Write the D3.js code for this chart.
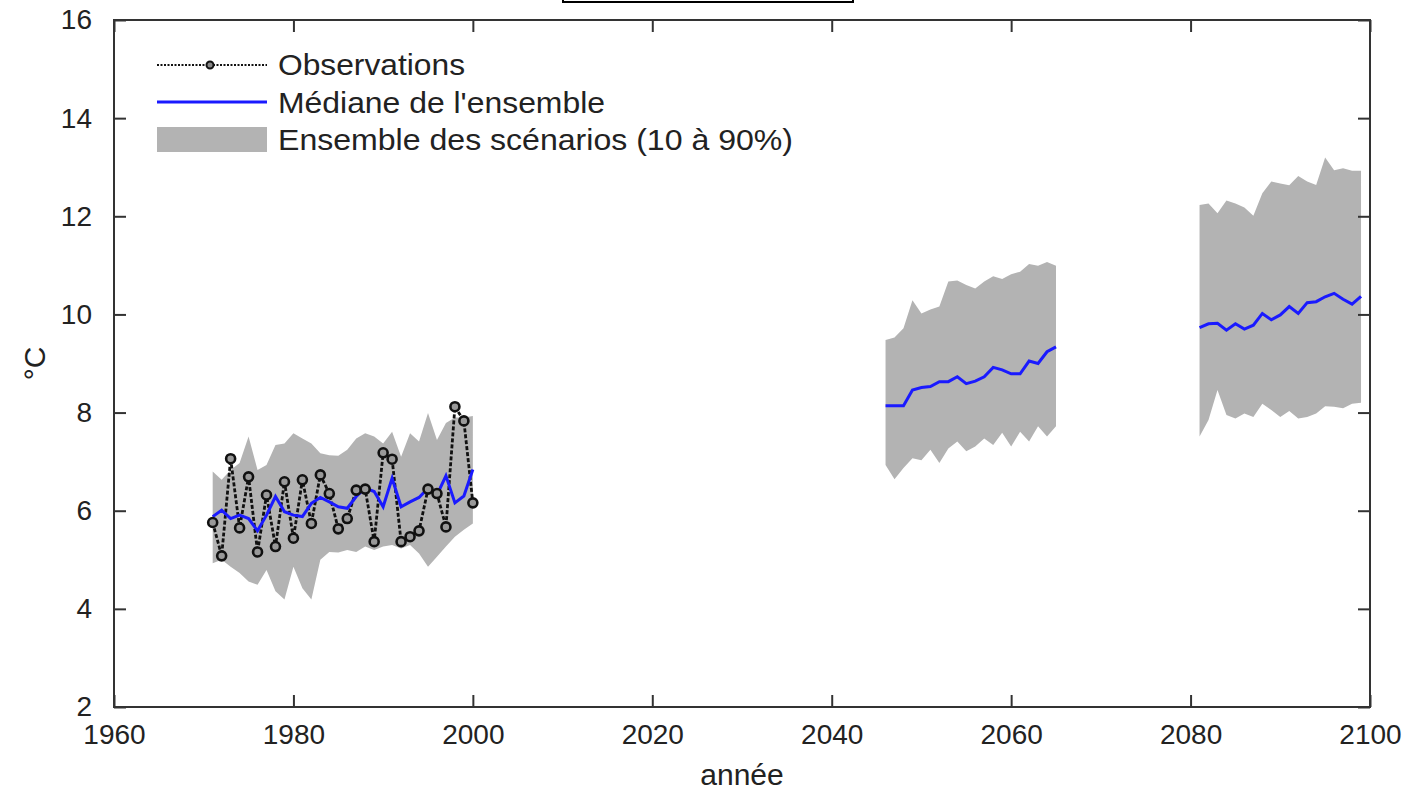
<!DOCTYPE html>
<html>
<head>
<meta charset="utf-8">
<script src="https://unpkg.com/d3@7/dist/d3.min.js"></script>
<style>
  body { margin: 0; background: #fff; }
  text { font-family: "Liberation Sans", Arial, sans-serif; fill: #222; }
</style>
</head>
<body>
<svg id="chart"></svg>
<script>
// observed period
var yearsHist = [1971,1972,1973,1974,1975,1976,1977,1978,1979,1980,1981,1982,1983,1984,1985,
                 1986,1987,1988,1989,1990,1991,1992,1993,1994,1995,1996,1997,1998,1999,2000];
var obsTemp = [5.76,5.08,7.06,5.65,6.69,5.16,6.32,5.27,6.59,5.44,6.63,5.74,6.73,6.35,5.63,
               5.84,6.42,6.44,5.37,7.18,7.05,5.37,5.47,5.59,6.44,6.35,5.67,8.12,7.83,6.16];
var medHist = [5.88,6.01,5.84,5.91,5.84,5.59,5.91,6.29,5.98,5.91,5.88,6.15,6.27,6.18,6.08,
               6.05,6.29,6.46,6.39,6.08,6.66,6.08,6.18,6.27,6.46,6.32,6.71,6.16,6.30,6.84];
var p90Hist = [6.80,6.63,6.83,6.97,7.51,6.83,6.93,7.34,7.37,7.58,7.47,7.37,7.17,7.13,7.12,
               7.24,7.47,7.58,7.51,7.37,7.61,7.10,7.58,7.41,7.99,7.44,7.79,7.90,7.90,7.93];
var p10Hist = [4.93,5.00,4.86,4.73,4.56,4.49,4.79,4.36,4.19,4.86,4.42,4.19,5.00,5.16,5.15,
               5.20,5.16,5.27,5.20,5.27,5.30,5.23,5.30,5.13,4.86,5.06,5.27,5.47,5.61,5.74];

// mid century
var yearsMid = [2046,2047,2048,2049,2050,2051,2052,2053,2054,2055,
                2056,2057,2058,2059,2060,2061,2062,2063,2064,2065];
var medMid = [8.14,8.14,8.14,8.46,8.51,8.53,8.63,8.63,8.73,8.59,
              8.64,8.73,8.92,8.87,8.79,8.79,9.05,9.00,9.24,9.34];
var p90Mid = [9.48,9.53,9.72,10.29,10.02,10.10,10.16,10.67,10.69,10.60,
              10.53,10.67,10.78,10.72,10.82,10.87,11.03,10.99,11.07,10.99];
var p10Mid = [6.93,6.64,6.87,7.07,7.03,7.24,6.97,7.27,7.41,7.21,
              7.31,7.47,7.34,7.59,7.31,7.61,7.41,7.72,7.51,7.72];

// end of century
var yearsEnd = [2081,2082,2083,2084,2085,2086,2087,2088,2089,2090,
                2091,2092,2093,2094,2095,2096,2097,2098,2099];
var medEnd = [9.73,9.81,9.82,9.68,9.81,9.70,9.78,10.02,9.89,9.99,
              10.16,10.02,10.24,10.26,10.36,10.43,10.31,10.21,10.37];
var p90End = [12.23,12.26,12.06,12.32,12.26,12.18,12.01,12.47,12.71,12.67,
              12.63,12.82,12.71,12.64,13.20,12.94,12.98,12.93,12.93];
var p10End = [7.51,7.85,8.46,7.95,7.88,7.98,7.91,8.18,8.05,7.91,
              8.03,7.88,7.91,7.98,8.13,8.12,8.09,8.18,8.20];

var xTicks = [1960,1980,2000,2020,2040,2060,2080,2100];
var yTicks = [2,4,6,8,10,12,14,16];

var legendLabels = ["Observations", "Médiane de l'ensemble", "Ensemble des scénarios (10 à 90%)"];

var bandColor = "#b3b3b3";
var medColor = "#1a1aff";

// dimensions
var W = 1411, H = 790;
var margin = {top: 20, right: 41, bottom: 83, left: 114},
    width = W - margin.left - margin.right,
    height = H - margin.top - margin.bottom;

var svg = d3.select("#chart").attr("width", W).attr("height", H);

// title box (clipped at the top)
svg.append("rect")
  .attr("x", 563).attr("y", -40).attr("width", 290).attr("height", 42)
  .attr("fill", "#fff").attr("stroke", "#000").attr("stroke-width", 2);

var g = svg.append("g").attr("transform", "translate(" + margin.left + "," + margin.top + ")");

var x = d3.scaleLinear().domain([1960, 2100]).range([0, width]);
var y = d3.scaleLinear().domain([2, 16]).range([height, 0]);

function rows(years, med, lo, hi) {
  return years.map(function(yr, i) { return {yr: yr, med: med[i], lo: lo[i], hi: hi[i]}; });
}
var periods = [rows(yearsHist, medHist, p10Hist, p90Hist),
               rows(yearsMid, medMid, p10Mid, p90Mid),
               rows(yearsEnd, medEnd, p10End, p90End)];

var area = d3.area()
  .x(function(d) { return x(d.yr); })
  .y0(function(d) { return y(d.lo); })
  .y1(function(d) { return y(d.hi); });

var medLine = d3.line()
  .x(function(d) { return x(d.yr); })
  .y(function(d) { return y(d.med); });

// bands
g.selectAll(".band").data(periods).enter().append("path")
  .attr("class", "band")
  .attr("d", area)
  .attr("fill", bandColor);

// observations
var obs = yearsHist.map(function(yr, i) { return {yr: yr, v: obsTemp[i]}; });
g.append("path")
  .datum(obs)
  .attr("d", d3.line().x(function(d) { return x(d.yr); }).y(function(d) { return y(d.v); }))
  .attr("fill", "none").attr("stroke", "#111").attr("stroke-width", 2.8)
  .attr("stroke-dasharray", "4,2");

// medians
g.selectAll(".med").data(periods).enter().append("path")
  .attr("class", "med")
  .attr("d", medLine)
  .attr("fill", "none").attr("stroke", medColor).attr("stroke-width", 3);

g.selectAll(".obsPt").data(obs).enter().append("circle")
  .attr("class", "obsPt")
  .attr("cx", function(d) { return x(d.yr); })
  .attr("cy", function(d) { return y(d.v); })
  .attr("r", 4.5)
  .attr("fill", "#999").attr("stroke", "#111").attr("stroke-width", 2.6);

// frame with inward ticks on all sides
var tickLen = 12;
function styleAxis(sel) {
  sel.select(".domain").remove();
  sel.selectAll(".tick line").attr("stroke", "#333").attr("stroke-width", 2);
  sel.selectAll(".tick text").attr("font-size", 28).attr("fill", "#222")
    .style("font-family", "'Liberation Sans', Arial, sans-serif");
}
g.append("g").attr("transform", "translate(0," + height + ")")
  .call(d3.axisBottom(x).tickValues(xTicks).tickFormat(d3.format("d")).tickSizeInner(-tickLen).tickSizeOuter(0).tickPadding(17))
  .call(styleAxis);
g.append("g")
  .call(d3.axisTop(x).tickValues(xTicks).tickFormat("").tickSizeInner(-tickLen).tickSizeOuter(0))
  .call(styleAxis);
g.append("g")
  .call(d3.axisLeft(y).tickValues(yTicks).tickSizeInner(-tickLen).tickSizeOuter(0).tickPadding(22))
  .call(styleAxis);
g.append("g").attr("transform", "translate(" + width + ",0)")
  .call(d3.axisRight(y).tickValues(yTicks).tickFormat("").tickSizeInner(-tickLen).tickSizeOuter(0))
  .call(styleAxis);

g.append("rect")
  .attr("width", width).attr("height", height)
  .attr("fill", "none").attr("stroke", "#333").attr("stroke-width", 2);

// axis labels
svg.append("text")
  .attr("x", margin.left + width / 2).attr("y", 785)
  .attr("text-anchor", "middle").attr("font-size", 30)
  .text("année");
svg.append("text")
  .attr("transform", "translate(45," + (margin.top + height / 2) + ") rotate(-90)")
  .attr("text-anchor", "middle").attr("font-size", 30)
  .text("°C");

// legend
var lg = svg.append("g");
var lx0 = 157, lx1 = 267, tx = 278;
lg.append("line").attr("x1", lx0).attr("x2", lx1).attr("y1", 65).attr("y2", 65)
  .attr("stroke", "#111").attr("stroke-width", 2).attr("stroke-dasharray", "2,1.5");
lg.append("circle").attr("cx", 210).attr("cy", 65).attr("r", 3.5)
  .attr("fill", "#888").attr("stroke", "#111").attr("stroke-width", 2);
lg.append("line").attr("x1", lx0).attr("x2", lx1).attr("y1", 102).attr("y2", 102)
  .attr("stroke", medColor).attr("stroke-width", 3);
lg.append("rect").attr("x", lx0).attr("y", 127).attr("width", lx1 - lx0).attr("height", 25)
  .attr("fill", bandColor);
lg.selectAll(".lt").data(legendLabels).enter().append("text")
  .attr("class", "lt")
  .attr("x", tx)
  .attr("y", function(d, i) { return 75 + i * 37.5; })
  .attr("font-size", 29)
  .attr("textLength", function(d, i) { return [187, 327, 515][i]; })
  .attr("lengthAdjust", "spacingAndGlyphs")
  .text(function(d) { return d; });
</script>
</body>
</html>
